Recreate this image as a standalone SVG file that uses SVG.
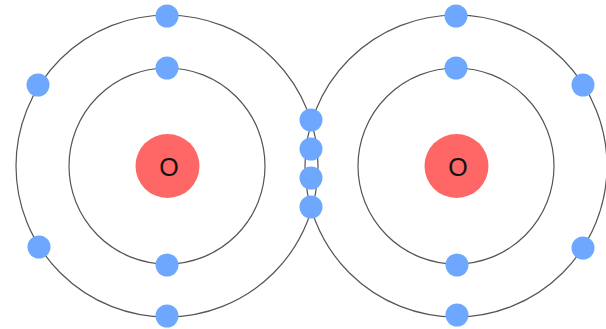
<svg xmlns="http://www.w3.org/2000/svg" width="606" height="329" viewBox="0 0 606 329">
<style>
.orbit{fill:none;stroke:#555;stroke-width:1.2}
.nuc{fill:#ff6666}
.e{fill:#6ea8fe}
.lbl{font-family:"Liberation Sans",Arial,sans-serif;font-size:25px;fill:#111;text-anchor:middle;dominant-baseline:central}
</style>
<rect width="606" height="329" fill="#fff"/>
<g id="atom-left">
<circle class="orbit" cx="167" cy="166" r="151"/>
<circle class="orbit" cx="167" cy="166" r="98"/>
<circle class="nuc" cx="167.5" cy="166" r="32"/>
<text class="lbl" x="169" y="167">O</text>
<circle class="e" cx="167" cy="16" r="11.5"/>
<circle class="e" cx="167" cy="68" r="11.5"/>
<circle class="e" cx="167" cy="265" r="11.5"/>
<circle class="e" cx="167" cy="316" r="11.5"/>
<circle class="e" cx="38" cy="85" r="11.5"/>
<circle class="e" cx="39" cy="247" r="11.5"/>
</g>
<g id="atom-right">
<circle class="orbit" cx="456" cy="166" r="151"/>
<circle class="orbit" cx="456" cy="166" r="98"/>
<circle class="nuc" cx="456.5" cy="166" r="32"/>
<text class="lbl" x="458" y="167">O</text>
<circle class="e" cx="456" cy="16" r="11.5"/>
<circle class="e" cx="456" cy="68" r="11.5"/>
<circle class="e" cx="457" cy="265" r="11.5"/>
<circle class="e" cx="457" cy="315" r="11.5"/>
<circle class="e" cx="583" cy="85" r="11.5"/>
<circle class="e" cx="583" cy="248" r="11.5"/>
</g>
<g id="shared">
<circle class="e" cx="311" cy="120" r="11.5"/>
<circle class="e" cx="311" cy="149" r="11.5"/>
<circle class="e" cx="311" cy="178" r="11.5"/>
<circle class="e" cx="311" cy="207" r="11.5"/>
</g>
</svg>
